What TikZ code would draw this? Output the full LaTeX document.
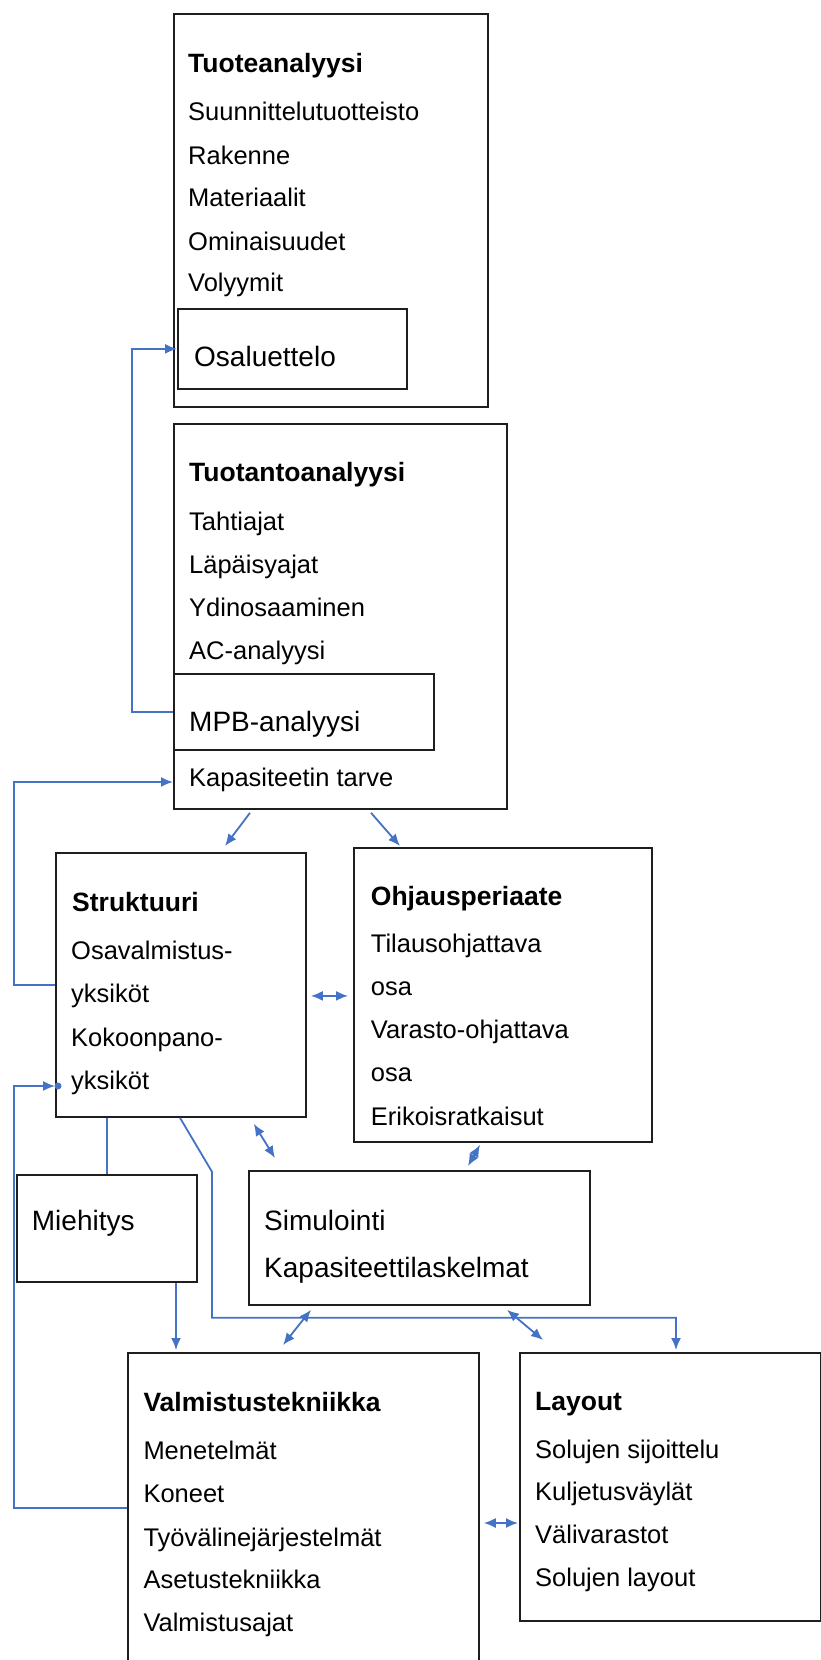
\documentclass[tikz,border=0pt]{standalone}
\usepackage{fontspec}
\setmainfont{Liberation Sans}
\usetikzlibrary{arrows.meta,calc}
\definecolor{lnblue}{RGB}{68,114,196}
\definecolor{boxline}{RGB}{30,30,30}
\begin{document}
\begin{tikzpicture}[x=1pt,y=-1pt,
 box/.style={draw=boxline, line width=1.8pt, rectangle, inner sep=0pt, anchor=north west},
 itm/.style={anchor=base west, inner sep=0pt, font=\fontsize{25.5}{30}\selectfont},
 ttl/.style={anchor=base west, inner sep=0pt, font=\fontsize{26.5}{30}\selectfont\bfseries},
 big/.style={anchor=base west, inner sep=0pt, font=\fontsize{28}{32}\selectfont},
 conn/.style={draw=lnblue, line width=1.8pt},
 tip/.style={-{Latex[length=12pt,width=10pt]}},
 dtip/.style={{Latex[length=12pt,width=10pt]}-{Latex[length=12pt,width=10pt]}}]
\clip (0,0) rectangle (821,1660);
\fill[white] (0,0) rectangle (821,1660);

% boxes
\node[box, minimum width=314pt, minimum height=393pt] (tuote) at (173,13) {};
\node[box, minimum width=229pt, minimum height=80pt] (osal) at (177,308) {};
\node[box, minimum width=333pt, minimum height=385pt] (tuotanto) at (173,423) {};
\node[box, minimum width=260pt, minimum height=76pt] (mpb) at (173,673) {};
\node[box, minimum width=250pt, minimum height=264pt] (strukt) at (55,852) {};
\node[box, minimum width=298pt, minimum height=294pt] (ohjaus) at (353,847) {};
\node[box, minimum width=180pt, minimum height=107pt] (miehitys) at (16,1174) {};
\node[box, minimum width=341pt, minimum height=134pt] (simul) at (248,1170) {};
\node[box, minimum width=351pt, minimum height=330pt] (valm) at (127,1352) {};
\node[box, minimum width=301pt, minimum height=268pt] (layout) at (519,1352) {};

% Tuoteanalyysi
\node[ttl] (t0) at (188,72.7) {Tuoteanalyysi};
\node[itm] (t1) at (188,120.7) {Suunnittelutuotteisto};
\node[itm] (t2) at (188,164) {Rakenne};
\node[itm] (t3) at (188,206.7) {Materiaalit};
\node[itm] (t4) at (188,250) {Ominaisuudet};
\node[itm] (t5) at (188,291.7) {Volyymit};
\node[big] (t6) at (194,366) {Osaluettelo};

% Tuotantoanalyysi
\node[ttl] (p0) at (189,481.7) {Tuotantoanalyysi};
\node[itm] (p1) at (189,530) {Tahtiajat};
\node[itm] (p2) at (189,573.3) {Läpäisyajat};
\node[itm] (p3) at (189,616.7) {Ydinosaaminen};
\node[itm] (p4) at (189,659.3) {AC-analyysi};
\node[big] (p5) at (189,731.7) {MPB-analyysi};
\node[itm] (p6) at (189,786.7) {Kapasiteetin tarve};

% Struktuuri
\node[ttl] (s0) at (72,911.7) {Struktuuri};
\node[itm] (s1) at (71,959.3) {Osavalmistus-};
\node[itm] (s2) at (71,1002.7) {yksiköt};
\node[itm] (s3) at (71,1046) {Kokoonpano-};
\node[itm] (s4) at (71,1089.3) {yksiköt};

% Ohjausperiaate
\node[ttl] (o0) at (370.7,905) {Ohjausperiaate};
\node[itm] (o1) at (370.7,952.7) {Tilausohjattava};
\node[itm] (o2) at (370.7,995.3) {osa};
\node[itm] (o3) at (370.7,1038.7) {Varasto-ohjattava};
\node[itm] (o4) at (370.7,1081.7) {osa};
\node[itm] (o5) at (370.7,1125) {Erikoisratkaisut};

% Miehitys, Simulointi
\node[big] (m0) at (31.7,1230) {Miehitys};
\node[big] (si0) at (264,1230) {Simulointi};
\node[big] (si1) at (264,1277.3) {Kapasiteettilaskelmat};

% Valmistustekniikka
\node[ttl] (v0) at (143.3,1411.7) {Valmistustekniikka};
\node[itm] (v1) at (143.3,1459.3) {Menetelmät};
\node[itm] (v2) at (143.3,1502.7) {Koneet};
\node[itm] (v3) at (143.3,1546) {Työvälinejärjestelmät};
\node[itm] (v4) at (143.3,1588.7) {Asetustekniikka};
\node[itm] (v5) at (143.3,1631.7) {Valmistusajat};

% Layout
\node[ttl] (l0) at (535,1410) {Layout};
\node[itm] (l1) at (535,1458.3) {Solujen sijoittelu};
\node[itm] (l2) at (535,1500.7) {Kuljetusväylät};
\node[itm] (l3) at (535,1543.3) {Välivarastot};
\node[itm] (l4) at (535,1586.7) {Solujen layout};

% connectors
\coordinate (kapin) at (173,782);
\coordinate (strin) at (55,1086);
\coordinate (valmout) at (127,1508);
\draw[conn,tip] (mpb.west) -- ++(-41,0) |- (osal.west);
\draw[conn,tip] (strukt.west) -- ++(-41,0) |- (kapin);
\draw[conn,tip] (valmout) -- ++(-113,0) |- (strin);
\fill[lnblue] ($(strin)+(3,0)$) circle (3.5pt);

\draw[conn,tip] ($(tuotanto.south west)+(77,3)$) -- ($(strukt.north west)+(170,-6)$);
\draw[conn,tip] ($(tuotanto.south west)+(198,3)$) -- ($(ohjaus.north west)+(47,-1)$);
\draw[conn,dtip] ($(strukt.east)+(4,11)$) -- ($(ohjaus.west)+(-5,1)$);
\draw[conn,dtip] ($(strukt.south east)+(-53,6)$) -- ($(simul.north west)+(27,-12)$);
\draw[conn,dtip] ($(ohjaus.south west)+(127,2)$) -- ($(simul.north west)+(220,-4)$);
\draw[conn] ($(strukt.south west)+(52,0)$) -- ($(miehitys.north west)+(91,0)$);
\draw[conn,tip] ($(strukt.south west)+(125,0)$) -- ++(32,54) -- ++(0,146) -| ($(layout.north west)+(157,-2)$);
\draw[conn,tip] ($(miehitys.south west)+(160,0)$) -- ($(valm.north west)+(49,-2)$);
\draw[conn,dtip] ($(simul.south west)+(63,4)$) -- ($(valm.north west)+(156,-7)$);
\draw[conn,dtip] ($(simul.south west)+(259,4)$) -- ($(layout.north west)+(24,-12)$);
\draw[conn,dtip] ($(valm.north east)+(4,171)$) -- ($(layout.north west)+(-1,171)$);
\end{tikzpicture}
\end{document}
